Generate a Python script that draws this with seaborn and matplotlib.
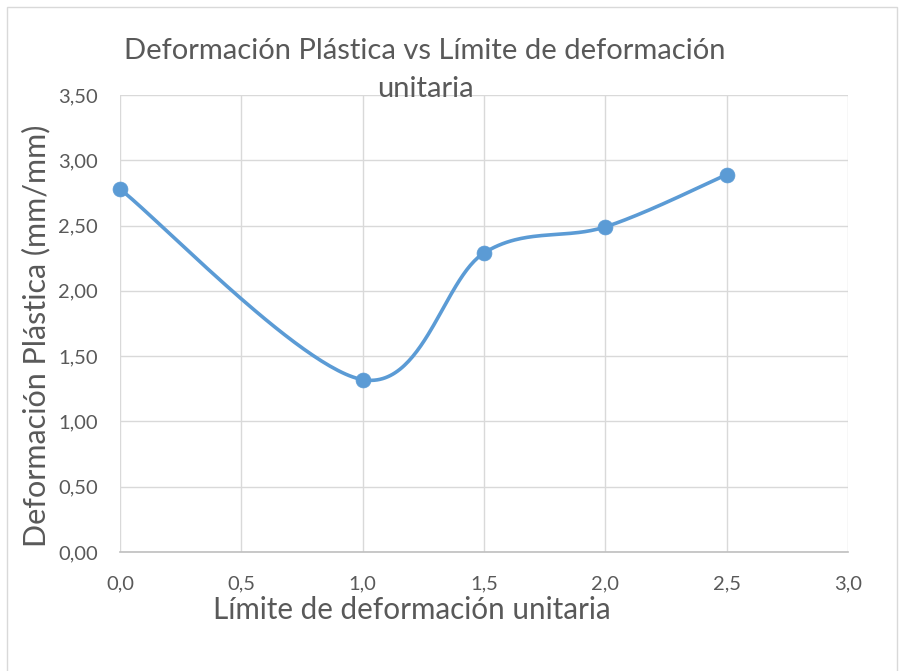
import numpy as np
import pandas as pd
import matplotlib
matplotlib.use("Agg")
import matplotlib.pyplot as plt
from matplotlib.patches import Rectangle
import seaborn as sns

# Data
limite = [0.0, 1.0, 1.5, 2.0, 2.5]
deformacion = [2.78, 1.32, 2.29, 2.49, 2.89]
x_ticks = [0.0, 0.5, 1.0, 1.5, 2.0, 2.5, 3.0]
y_ticks = [0.0, 0.5, 1.0, 1.5, 2.0, 2.5, 3.0, 3.5]

title = "Deformación Plástica vs Límite de deformación\nunitaria"
x_label = "Límite de deformación unitaria"
y_label = "Deformación Plástica (mm/mm)"

BLUE = "#5B9BD5"
TEXT = "#595959"
GRID = "#D9D9D9"


def smooth_curve(xs, ys, n=60):
    """Cubic Bezier smoothing through every point (spreadsheet-style)."""
    pts = np.column_stack([xs, ys]).astype(float)
    padded = np.vstack([pts[0], pts, pts[-1]])
    out = []
    t = np.linspace(0, 1, n)[:, None]
    for i in range(len(pts) - 1):
        p0, p1 = padded[i], padded[i + 1]
        p2, p3 = padded[i + 2], padded[i + 3]
        c1 = p1 + (p2 - p0) / 6.0
        c2 = p2 - (p3 - p1) / 6.0
        seg = ((1 - t) ** 3) * p1 + 3 * ((1 - t) ** 2) * t * c1 \
            + 3 * (1 - t) * t ** 2 * c2 + t ** 3 * p2
        out.append(seg if i == 0 else seg[1:])
    arr = np.vstack(out)
    return arr[:, 0], arr[:, 1]


sns.set_theme(style="whitegrid")
plt.rcParams["font.family"] = ["Lato", "DejaVu Sans"]

W, H = 904, 671
fig = plt.figure(figsize=(W / 100, H / 100), dpi=100)
fig.patch.set_facecolor("white")

# Light outer frame of the chart area
fig.add_artist(Rectangle((7 / W, -0.05), (897 - 7) / W, 1.05 - 7 / H,
                         transform=fig.transFigure, fill=False,
                         edgecolor="#D9D9D9", linewidth=1.0))

ax = fig.add_axes([120 / W, (H - 552) / H, 728 / W, 457 / H])
ax.set_facecolor("white")

sx, sy = smooth_curve(limite, deformacion)
curve = pd.DataFrame({"x": sx, "y": sy})
points = pd.DataFrame({"x": limite, "y": deformacion})

sns.lineplot(data=curve, x="x", y="y", ax=ax, color=BLUE, linewidth=2.6,
             sort=False, estimator=None, zorder=3)
sns.scatterplot(data=points, x="x", y="y", ax=ax, color=BLUE, s=115,
                edgecolor=BLUE, linewidth=0.5, zorder=4, clip_on=False)

ax.set_xlim(0, 3.0)
ax.set_ylim(0, 3.5)
ax.set_xticks(x_ticks)
ax.set_yticks(y_ticks)
ax.set_xticklabels([f"{v:.1f}".replace(".", ",") for v in x_ticks])
ax.set_yticklabels([f"{v:.2f}".replace(".", ",") for v in y_ticks])
ax.tick_params(axis="x", colors=TEXT, labelsize=14.5, length=0, pad=17)
ax.tick_params(axis="y", colors=TEXT, labelsize=14.5, length=0, pad=16)
ax.grid(True, color=GRID, linewidth=1.0)
for side in ["top", "right", "left"]:
    ax.spines[side].set_visible(False)
ax.spines["bottom"].set_color("#BFBFBF")
ax.spines["bottom"].set_linewidth(1.2)
ax.set_xlabel("")
ax.set_ylabel("")

fig.text(425 / W, 1 - 70 / H, title, ha="center", va="center",
         fontsize=21, color=TEXT, linespacing=1.55)
fig.text(412 / W, 1 - 610 / H, x_label, ha="center", va="center",
         fontsize=21.3, color=TEXT)
fig.text(36 / W, 1 - 336 / H, y_label, ha="center", va="center",
         rotation=90, fontsize=22, color=TEXT)

fig.savefig("out.png", dpi=100)
